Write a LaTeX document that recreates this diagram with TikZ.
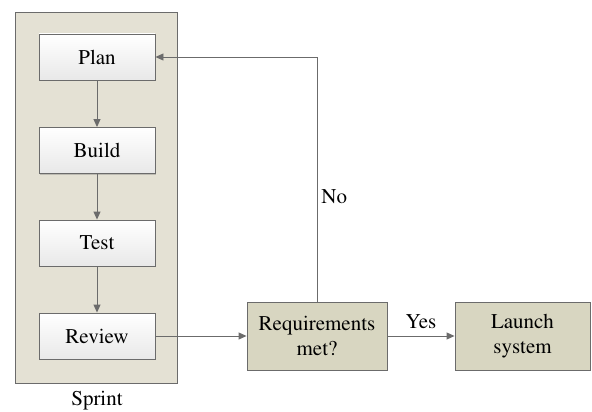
\documentclass[tikz,border=0pt]{standalone}
\usepackage[T1]{fontenc}
\usepackage{mathptmx}
\usetikzlibrary{arrows.meta,shadows}
\definecolor{lineg}{HTML}{6B6B6B}
\definecolor{sprintbg}{HTML}{E4E1D4}
\definecolor{decbg}{HTML}{D8D6C1}
\tikzset{
  stepbox/.style={draw=lineg, line width=0.9pt, top color=white, bottom color=black!9,
    minimum width=116pt, minimum height=46pt, inner sep=0pt, font=\fontsize{21}{23}\selectfont,
    drop shadow={shadow xshift=1.2pt, shadow yshift=-1.2pt, opacity=0.3, fill=black!60}},
  decbox/.style={draw=lineg, line width=0.9pt, fill=decbg,
    minimum height=68pt, inner sep=0pt, align=center, font=\fontsize{21}{25}\selectfont,
    drop shadow={shadow xshift=1.2pt, shadow yshift=-1.2pt, opacity=0.3, fill=black!60}},
  conn/.style={draw=lineg, line width=0.9pt, -{Triangle[length=8pt,width=7pt]}},
  lbl/.style={font=\fontsize{21}{23}\selectfont, inner sep=0pt}
}
\begin{document}
\begin{tikzpicture}[x=1pt,y=-1pt]
\useasboundingbox (0,0) rectangle (592,412);
\node[draw=lineg, line width=0.9pt, fill=sprintbg, minimum width=162pt, minimum height=371pt, inner sep=0pt,
  drop shadow={shadow xshift=1.2pt, shadow yshift=-1.2pt, opacity=0.3, fill=black!60}] (sprint) at (96,197.5) {};
\node[lbl] (sprintlbl) at (97,401) {Sprint};
\node[stepbox] (plan) at (97,57) {Plan};
\node[stepbox] (build) at (97,150.5) {Build};
\node[stepbox] (test) at (97,243) {Test};
\node[stepbox] (review) at (97,336) {Review};
\node[decbox, minimum width=140pt] (req) at (317,336) {Requirements\\met?};
\node[decbox, minimum width=135pt] (launch) at (522.5,336) {Launch\\system};
\draw[conn] (plan) -- (build);
\draw[conn] (build) -- (test);
\draw[conn] (test) -- (review);
\draw[conn] (review) -- (req);
\draw[conn] (req) -- node[lbl, above=7pt] (yes) {Yes} (launch);
\coordinate (corner) at (req.north |- plan.east);
\draw[conn] (req.north) -- node[lbl, pos=0.43, right=4pt] (no) {No} (corner) -- (plan.east);
\end{tikzpicture}
\end{document}
